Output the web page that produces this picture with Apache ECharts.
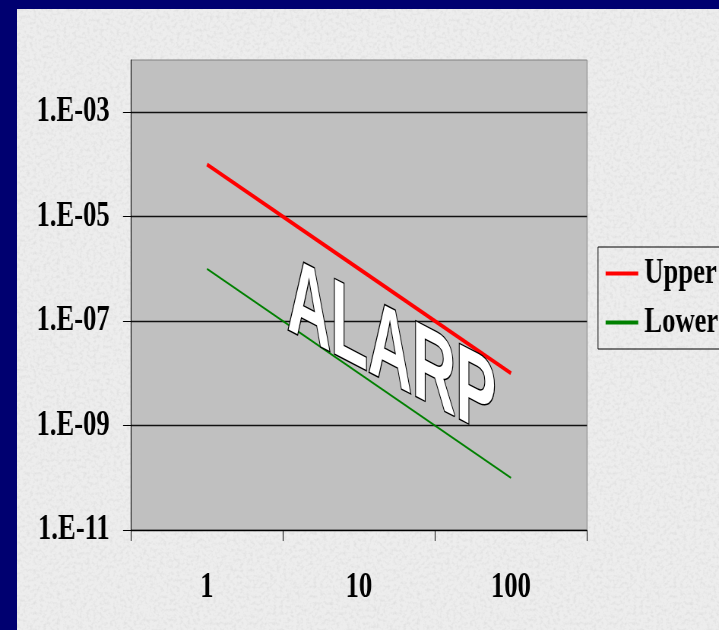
<!DOCTYPE html>
<html><head><meta charset="utf-8">
<script src="https://cdn.jsdelivr.net/npm/echarts@6/dist/echarts.min.js"></script>
<style>
html,body{margin:0;padding:0;width:719px;height:630px;overflow:hidden;background:#000070;}
#bg{position:absolute;left:17px;top:9px;right:0;bottom:0;background-color:#ededed;
background-image:url("data:image/svg+xml;utf8,<svg xmlns='http://www.w3.org/2000/svg' width='360' height='360'><filter id='n'><feTurbulence type='fractalNoise' baseFrequency='0.3' numOctaves='2' seed='5'/><feColorMatrix values='0 0 0 0 0.55  0 0 0 0 0.55  0 0 0 0 0.55  0.7 0 0 0 -0.3'/></filter><rect width='100%' height='100%' filter='url(%23n)'/></svg>");}
#chart{position:absolute;left:0;top:0;width:946px;height:630px;transform:scaleX(0.76);transform-origin:0 0;}
</style></head><body>
<div id="bg"></div><div id="chart"></div>
<script>
const categories = ['1', '10', '100'];
const upperValues = [1e-4, 1e-6, 1e-8];
const lowerValues = [1e-6, 1e-8, 1e-10];
const seriesNames = ['Upper', 'Lower'];
const yTickLabels = {'-11': '1.E-11', '-9': '1.E-09', '-7': '1.E-07', '-5': '1.E-05', '-3': '1.E-03'};
const stampText = 'ALARP';

const SX = 0.76;
const font = '"Liberation Serif","Times New Roman",serif';
const chart = echarts.init(document.getElementById('chart'), null, {renderer: 'canvas'});
chart.setOption({
  animation: false,
  backgroundColor: 'transparent',
  grid: {left: 131 / SX, right: 946 - 587 / SX, top: 60, bottom: 100,
         show: true, backgroundColor: '#c0c0c0', borderColor: '#808080', borderWidth: 1},
  legend: {
    orient: 'vertical', left: 598 / SX, top: 247,
    padding: [9, 200, 9, 10], itemGap: 14,
    itemWidth: 43, itemHeight: 4, icon: 'rect',
    borderColor: '#000', borderWidth: 1,
    data: seriesNames,
    textStyle: {fontFamily: font, fontWeight: 'bold', fontSize: 35, lineHeight: 35, color: '#000', padding: [0, 0, 0, 3]}
  },
  xAxis: {
    type: 'category', data: categories, boundaryGap: true,
    axisLine: {lineStyle: {color: '#000', width: 1}},
    axisTick: {show: true, length: 11, lineStyle: {color: '#000'}},
    axisLabel: {fontFamily: font, fontWeight: 'bold', fontSize: 35, color: '#000', margin: 40},
    splitLine: {show: false}
  },
  yAxis: {
    type: 'log', logBase: 10, min: 1e-11, max: 1e-2, interval: 2,
    axisLine: {show: true, lineStyle: {color: '#000', width: 1}},
    axisTick: {show: true, length: 10.5, lineStyle: {color: '#000'}},
    axisLabel: {
      fontFamily: font, fontWeight: 'bold', fontSize: 35, color: '#000', margin: 28,
      showMaxLabel: false,
      formatter: function (v) { const e = Math.round(Math.log10(v)); return yTickLabels[String(e)] || ''; }
    },
    splitLine: {show: true, showMaxLine: false, lineStyle: {color: '#111', width: 1.3}}
  },
  series: [
    {name: seriesNames[0], type: 'line', data: upperValues, symbol: 'none',
     lineStyle: {color: '#ff0000', width: 4}, itemStyle: {color: '#ff0000'}, z: 3},
    {name: seriesNames[1], type: 'line', data: lowerValues, symbol: 'none',
     lineStyle: {color: '#008000', width: 2}, itemStyle: {color: '#008000'}, z: 3}
  ],
  graphic: [{
    type: 'text', x: 287 / SX, y: 299, scaleX: 0.74, skewY: -Math.atan(0.52 * SX), z: 100,
    style: {text: stampText, font: 'bold 108px "Liberation Sans", Arial, sans-serif',
            fill: '#ffffff', stroke: '#000000', lineWidth: 3, align: 'left', verticalAlign: 'middle'}
  }]
});
</script></body></html>
